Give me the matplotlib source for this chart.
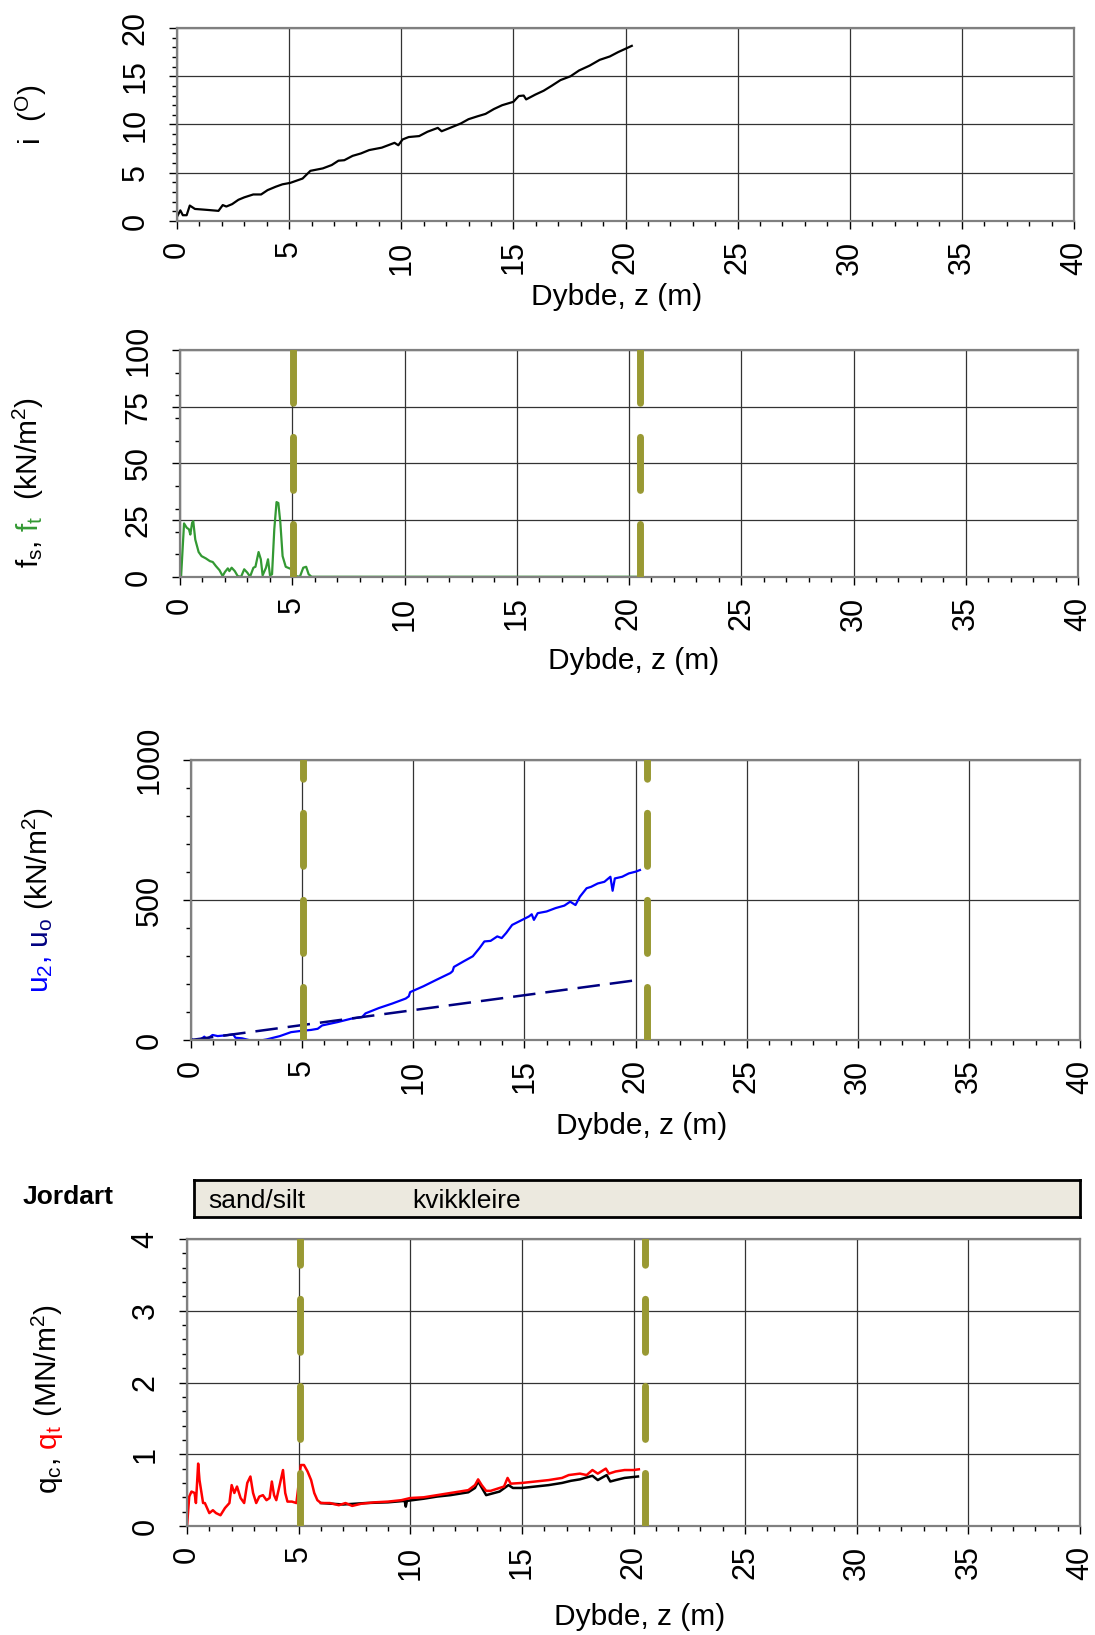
import matplotlib
matplotlib.use('Agg')
import matplotlib.pyplot as plt
from matplotlib.ticker import MultipleLocator
from matplotlib.transforms import IdentityTransform

# ---- data ----
# inclination
i_z = [0, 0.15, 0.26, 0.43, 0.57, 0.8, 1.35, 1.85, 2.04, 2.2, 2.46, 2.74, 3.0, 3.4, 3.75,
       4.04, 4.4, 4.7, 5.05, 5.6, 5.95, 6.17, 6.5, 6.9, 7.2, 7.46, 7.83, 8.2, 8.57, 9.13,
       9.7, 9.87, 10.06, 10.33, 10.8, 11.17, 11.63, 11.8, 12.28, 12.65, 13.0, 13.4, 13.76,
       14.13, 14.5, 15.0, 15.24, 15.46, 15.57, 15.98, 16.35, 16.7, 17.1, 17.55, 17.93,
       18.4, 18.85, 19.3, 19.67, 20.0, 20.28]
i_deg = [0.45, 1.1, 0.6, 0.6, 1.6, 1.25, 1.15, 1.05, 1.65, 1.5, 1.75, 2.2, 2.45, 2.75, 2.75,
         3.2, 3.55, 3.8, 3.95, 4.4, 5.2, 5.3, 5.45, 5.8, 6.25, 6.3, 6.75, 7.0, 7.35, 7.6,
         8.1, 7.85, 8.45, 8.7, 8.8, 9.25, 9.65, 9.3, 9.75, 10.1, 10.55, 10.85, 11.1,
         11.6, 12.0, 12.35, 12.95, 13.0, 12.6, 13.1, 13.5, 14.0, 14.6, 15.0, 15.6,
         16.1, 16.7, 17.05, 17.5, 17.85, 18.15]

# sleeve friction
fs_z = [0, 0.05, 0.18, 0.3, 0.4, 0.46, 0.54, 0.59, 0.68, 0.83, 0.96, 1.15, 1.33, 1.46, 1.6,
        1.76, 1.9, 2.0, 2.13, 2.2, 2.3, 2.44, 2.57, 2.72, 2.86, 3.0, 3.12, 3.27, 3.36, 3.5,
        3.6, 3.68, 3.83, 3.92, 4.01, 4.1, 4.2, 4.3, 4.38, 4.47, 4.57, 4.71, 4.9, 5.03, 5.16,
        5.34, 5.49, 5.62, 5.73, 5.86, 20.4]
fs_val = [0, 0.5, 23.6, 21.7, 21, 18.7, 23.9, 24.6, 16.5, 11, 9.2, 8.2, 7, 6.6, 4.8,
          3, 0.4, 2.2, 3.8, 2.6, 4.1, 2.6, 0.4, 0.1, 3.4, 1.9, 0.1, 4.1, 4.5, 11,
          7.8, 0.7, 4.1, 7.8, 0.7, 1.2, 21, 33, 32.6, 23.9, 9.2, 4.5, 3.7, 3.4, 0.4,
          0.1, 4.1, 4.5, 1.2, 0.1, 0.1]

# pore pressure u2 and in-situ u0
u2_z = [0, 0.14, 0.4, 0.6, 0.7, 0.97, 1.2, 1.6, 1.9, 2.0, 2.3, 2.6, 2.98, 3.4, 4.0,
        4.5, 5.0, 5.4, 5.7, 5.9, 6.6, 7.2, 7.7, 7.85, 8.45, 9.05, 9.66, 9.8, 9.86, 10.46,
        11.07, 11.67, 11.77, 11.83, 12.27, 12.68, 12.98, 13.2, 13.48, 13.78, 13.98, 14.18,
        14.45, 14.8, 15.2, 15.33, 15.43, 15.6, 16.0, 16.4, 16.8, 17.06, 17.3, 17.5, 17.8,
        18.0, 18.3, 18.6, 18.87, 18.97, 19.07, 19.4, 19.7, 20.0, 20.2]
u2_val = [5, -3, 0, 12, 2, 18, 14, 17, 20, 8, 6, 0, -4, 2, 14,
          28, 33, 36, 40, 52, 64, 76, 82, 95, 114, 130, 148, 156, 171, 192,
          216, 239, 246, 261, 281, 299, 328, 352, 354, 370, 364, 382,
          411, 425, 441, 449, 429, 453, 459, 471, 480, 494, 482, 512, 542,
          547, 559, 565, 583, 533, 577, 583, 595, 601, 607]
u0_z = [0, 20.26]
u0_val = [0, 216]

# cone resistance qt (red) and qc (black, hidden under qt above 6 m)
qt_z = [0, 0.1, 0.2, 0.34, 0.4, 0.5, 0.56, 0.64, 0.72, 0.8, 0.9, 1.0, 1.16, 1.3, 1.5,
        1.7, 1.9, 2.0, 2.12, 2.24, 2.4, 2.56, 2.7, 2.84, 2.96, 3.1, 3.24, 3.4, 3.56, 3.7,
        3.8, 3.9, 4.0, 4.1, 4.3, 4.4, 4.5, 4.7, 4.9, 5.1, 5.24, 5.4, 5.56, 5.7, 5.84,
        6.0, 6.4, 6.8, 7.1, 7.4, 7.8, 8.4, 9.0, 9.6, 10.0, 10.6, 11.2, 11.8, 12.2, 12.6,
        12.9, 13.04, 13.2, 13.4, 13.6, 14.0, 14.2, 14.36, 14.5, 15.0, 15.6, 16.2, 16.8,
        17.1, 17.6, 17.9, 18.16, 18.4, 18.76, 18.9, 19.2, 19.6, 20.0, 20.24]
qt_val = [0, 0.41, 0.48, 0.46, 0.32, 0.87, 0.64, 0.48, 0.32, 0.32, 0.25, 0.18, 0.22, 0.18, 0.15,
          0.25, 0.32, 0.57, 0.46, 0.55, 0.39, 0.32, 0.6, 0.69, 0.46, 0.32, 0.41, 0.43, 0.36, 0.39,
          0.62, 0.43, 0.36, 0.5, 0.78, 0.46, 0.34, 0.34, 0.32, 0.85, 0.85, 0.76, 0.64, 0.46, 0.36,
          0.32, 0.32, 0.29, 0.32, 0.28, 0.31, 0.33, 0.34, 0.36, 0.39, 0.4, 0.43, 0.46, 0.48, 0.5,
          0.57, 0.65, 0.57, 0.49, 0.49, 0.53, 0.55, 0.67, 0.59, 0.6, 0.62, 0.64, 0.67,
          0.71, 0.73, 0.71, 0.78, 0.73, 0.8, 0.73, 0.76, 0.78, 0.78, 0.79]
qc_z = [6.0, 7.0, 8.0, 9.0, 9.75, 9.8, 9.85, 10.6, 11.2, 11.8, 12.6, 12.9, 13.04, 13.4, 14.0,
        14.4, 14.6, 15.0, 15.6, 16.2, 16.8, 17.2, 17.6, 18.16, 18.4, 18.8, 18.96, 19.2, 19.6, 20.2]
qc_val = [0.32, 0.3, 0.32, 0.33, 0.35, 0.27, 0.35, 0.38, 0.41, 0.43, 0.47, 0.53, 0.62, 0.43, 0.48,
          0.57, 0.53, 0.53, 0.55, 0.57, 0.6, 0.63, 0.65, 0.7, 0.64, 0.71, 0.62, 0.64, 0.67, 0.69]

# layer boundaries and soil names
layer_z = [5.05, 20.5]
soil_names = ['sand/silt', 'kvikkleire']
soil_pos = [0.63, 9.84]

# ---- figure ----
plt.rcParams['font.family'] = ['Liberation Sans', 'DejaVu Sans']
plt.rcParams['mathtext.fontset'] = 'custom'
plt.rcParams['mathtext.rm'] = 'Liberation Sans'
plt.rcParams['mathtext.it'] = 'Liberation Sans:italic'
plt.rcParams['mathtext.bf'] = 'Liberation Sans:bold'

W, H = 1095, 1635
fig = plt.figure(figsize=(W / 100, H / 100), dpi=100)

OLIVE = '#999933'
GREEN = '#339933'
FS_TICK = 22
FS_LAB = 21.5


def px_rect(left, top, right, bottom):
    return [left / W, 1 - bottom / H, (right - left) / W, (bottom - top) / H]


def setup(ax, ymax, ymaj, ymin):
    ax.set_xlim(0, 40)
    ax.set_ylim(0, ymax)
    ax.xaxis.set_major_locator(MultipleLocator(5))
    ax.xaxis.set_minor_locator(MultipleLocator(1))
    ax.yaxis.set_major_locator(MultipleLocator(ymaj))
    ax.yaxis.set_minor_locator(MultipleLocator(ymin))
    ax.grid(True, which='major', color='#333333', lw=0.9)
    ax.tick_params(which='both', direction='out', color='black', labelsize=FS_TICK)
    ax.tick_params(which='major', length=6, width=1)
    ax.tick_params(which='minor', length=3.5, width=1)
    ax.tick_params(axis='x', labelrotation=90, pad=8)
    ax.tick_params(axis='y', labelrotation=90, pad=13)
    plt.setp(ax.get_yticklabels(), va='center')
    for sp in ax.spines.values():
        sp.set_color('#808080')
        sp.set_linewidth(1.6)


def layers(ax, ymax):
    for z in layer_z:
        ax.plot([z, z], [0, ymax], color=OLIVE, lw=5, dashes=(7.64, 4.9),
                dash_capstyle='round', solid_capstyle='round', zorder=5)


def vlabel(x, yc, parts, size=FS_LAB):
    # multi-coloured vertical label, x = baseline pixel, yc = centre pixel (from top)
    # spaces go at the start of a part, trailing ones are not measured
    r = fig.canvas.get_renderer()
    texts = []
    for s, c in parts:
        t = fig.text(0, 0, s, color=c, fontsize=size, rotation=90, rotation_mode='anchor',
                     ha='left', va='baseline', transform=IdentityTransform())
        texts.append(t)
    lens = [t.get_window_extent(r).height for t in texts]
    y = (H - yc) - sum(lens) / 2
    for t, L in zip(texts, lens):
        t.set_position((x, y))
        y += L


def xlabel(xc, yc):
    fig.text(xc / W, 1 - yc / H, 'Dybde, z (m)', fontsize=FS_LAB, ha='center', va='center')


# panel 1: inclination
ax1 = fig.add_axes(px_rect(177, 28, 1074, 221))
setup(ax1, 20, 5, 1)
ax1.plot(i_z, i_deg, color='black', lw=1.6)
xlabel(617, 297)

# panel 2: sleeve friction
ax2 = fig.add_axes(px_rect(180, 350, 1078, 577))
setup(ax2, 100, 25, 10)
ax2.plot(fs_z, fs_val, color=GREEN, lw=1.6)
layers(ax2, 100)
xlabel(634, 661)

# panel 3: pore pressure
ax3 = fig.add_axes(px_rect(191, 760, 1080, 1040))
setup(ax3, 1000, 500, 100)
ax3.plot(u2_z, u2_val, color='#0000ff', lw=1.6)
ax3.plot(u0_z, u0_val, color='#000080', lw=1.8, dashes=(9, 4))
layers(ax3, 1000)
xlabel(642, 1126)

# soil type box
axb = fig.add_axes(px_rect(194, 1180, 1080, 1217))
axb.set_xlim(0, 40)
axb.set_ylim(0, 1)
axb.set_facecolor('#ece9df')
axb.set_xticks([])
axb.set_yticks([])
for sp in axb.spines.values():
    sp.set_color('black')
    sp.set_linewidth(2)
for name, p in zip(soil_names, soil_pos):
    axb.text(p, 0.42, name, fontsize=19, ha='left', va='center')
fig.text(23 / W, 1 - 1197 / H, 'Jordart', fontsize=19, fontweight='bold', ha='left', va='center')

# panel 4: cone resistance
ax4 = fig.add_axes(px_rect(187, 1239, 1080, 1526))
setup(ax4, 4, 1, 0.2)
ax4.plot(qc_z, qc_val, color='black', lw=1.8)
ax4.plot(qt_z, qt_val, color='#ff0000', lw=1.8)
layers(ax4, 4)
xlabel(640, 1617)

# y labels
vlabel(41, 115, [('i  ($\\mathregular{^O}$)', 'black')])
vlabel(38, 482, [('$\\mathregular{f_s}$,', 'black'), (' $\\mathregular{f_t}$', GREEN),
                 ('  (kN/m$\\mathregular{^2}$)', 'black')])
vlabel(48, 900, [('$\\mathregular{u_2}$,', '#0000ff'), (' $\\mathregular{u_o}$', '#000080'),
                 (' (kN/m$\\mathregular{^2}$)', 'black')])
vlabel(57, 1399, [('$\\mathregular{q_c}$,', 'black'), (' $\\mathregular{q_t}$', '#ff0000'),
                  (' (MN/m$\\mathregular{^2}$)', 'black')])

fig.savefig('out.png', dpi=100)
